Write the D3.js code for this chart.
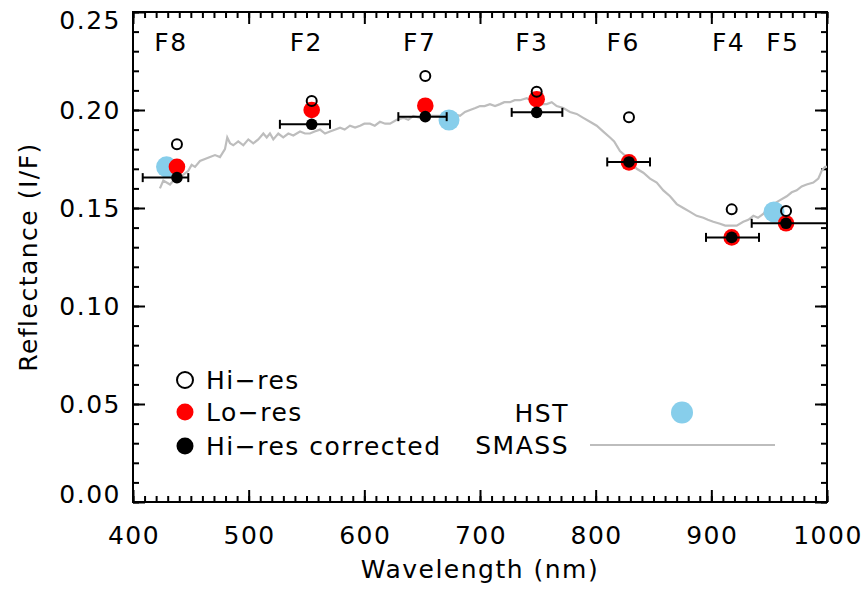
<!DOCTYPE html>
<html lang="en">
<head>
<meta charset="utf-8">
<title>Reflectance spectrum</title>
<script src="https://d3js.org/d3.v7.min.js"></script>
<style>
  body { margin: 0; background: #fff; }
  text { font-family: "DejaVu Sans", sans-serif; fill: #000; letter-spacing: 1.5px; }
</style>
</head>
<body>
<svg id="chart" width="865" height="590"></svg>
<script>
// filters
var filters   = ["F8", "F2", "F7", "F3", "F6", "F4", "F5"];
var filterWl  = [438, 554.5, 652.7, 749, 828.8, 917.6, 964.6];
var barLo     = [408.4, 527, 629.4, 727.4, 810, 895.4, 934.9];
var barHi     = [447.8, 570.3, 671.2, 771.2, 847, 941.2, 1010];
var hiRes     = [0.1825, 0.2046, 0.2173, 0.2093, 0.1963, 0.1493, 0.1485];
var loRes     = [0.171, 0.200, 0.2022, 0.2055, 0.1733, 0.135, 0.1422];
var hiResCorr = [0.1655, 0.1927, 0.1966, 0.1988, 0.1735, 0.135, 0.1422];
var labelWl   = [432, 549, 647, 744, 823, 914, 961];

// HST points
var hstWl = [429, 673.2, 954.2];
var hstR  = [0.171, 0.1949, 0.148];

// SMASS spectrum
var smassWl = [423.3, 426.2, 432, 438, 443.5, 447.8, 450.7, 453.6, 457.9, 462.2, 466.6, 470.9,
  475.2, 479.5, 481.5, 483.9, 486.7, 491.0, 495.4, 499.7, 504.0, 508.3, 512.7, 515.6, 518.4,
  521.3, 525.6, 529.9, 534.3, 538.6, 544.4, 548.7, 553.0, 557, 561.7, 566, 570.3, 575, 579.0,
  583, 587.6, 592, 596.3, 600, 604.9, 609, 613.5, 618, 622.2, 628.0, 633.7, 638, 642.3, 648,
  653.9, 660, 665, 672, 677, 682.7, 687, 691.4, 696, 700.0, 704, 708.6, 713, 717.3, 721, 725.9,
  730, 734.6, 740.4, 744, 748.4, 753, 757.7, 762, 766.3, 772.0, 777.8, 783.6, 789.3, 795.1,
  800.9, 806.6, 812.4, 816, 821.0, 828.8, 835.5, 841.2, 847.0, 852.8, 858.5, 864.3, 870.1,
  875.8, 881.6, 887.3, 893.1, 897, 901.7, 907.5, 912, 916.1, 921.9, 927.6, 932, 936.3, 940.3,
  944.9, 949.2, 953.6, 959.4, 965.2, 969.5, 973.8, 978.1, 982.4, 988.2, 992.5, 995.4, 998.3, 1000];
var smassR = [0.160, 0.164, 0.162, 0.166, 0.167, 0.169, 0.172, 0.171, 0.174, 0.175, 0.176, 0.177,
  0.176, 0.180, 0.186, 0.183, 0.182, 0.184, 0.182, 0.185, 0.183, 0.185, 0.188, 0.186, 0.188,
  0.185, 0.188, 0.186, 0.188, 0.187, 0.189, 0.188, 0.188, 0.189, 0.190, 0.188, 0.189, 0.190, 0.191,
  0.190, 0.192, 0.191, 0.192, 0.193, 0.193, 0.192, 0.194, 0.193, 0.193, 0.195, 0.196, 0.195, 0.197, 0.196,
  0.197, 0.197, 0.197, 0.197, 0.198, 0.197, 0.199, 0.200, 0.201, 0.202, 0.202, 0.203, 0.202, 0.203, 0.204, 0.204,
  0.205, 0.205, 0.206, 0.205, 0.205, 0.203, 0.203, 0.204, 0.202, 0.201, 0.199, 0.198, 0.196, 0.194,
  0.192, 0.189, 0.186, 0.184, 0.179, 0.175, 0.170, 0.168, 0.165, 0.163, 0.159, 0.156, 0.152,
  0.150, 0.148, 0.146, 0.145, 0.144, 0.143, 0.142, 0.141, 0.141, 0.141, 0.143, 0.144, 0.146, 0.145,
  0.147, 0.150, 0.152, 0.154, 0.156, 0.158, 0.159, 0.161, 0.162, 0.163, 0.165, 0.169, 0.171, 0.171];

// axis ticks
var xTicks = [400, 500, 600, 700, 800, 900, 1000];
var yTicks = [0.00, 0.05, 0.10, 0.15, 0.20, 0.25];

var svg = d3.select("#chart");
var pLeft = 133, pRight = 827, pTop = 12, pBottom = 502;

var x = d3.scaleLinear().domain([400, 1000]).range([pLeft, pRight]);
var y = d3.scaleLinear().domain([0, 0.25]).range([pBottom, pTop]);

var fs = 25;

// axes, ticks inward on all four sides
function tickAxis(axisFn, scale, values, size, transform) {
  var g = svg.append("g").attr("transform", transform)
    .call(axisFn(scale).tickValues(values).tickSize(size).tickFormat(""));
  g.select(".domain").remove();
  g.selectAll("line").attr("stroke", "#000").attr("stroke-width", 2);
  return g;
}
var xMinor = d3.range(400, 1001, 10);
var yMinor = d3.range(0, 0.2501, 0.01);
tickAxis(d3.axisTop, x, xMinor, 6, "translate(0," + pBottom + ")");
tickAxis(d3.axisTop, x, xTicks, 12, "translate(0," + pBottom + ")");
tickAxis(d3.axisBottom, x, xMinor, 6, "translate(0," + pTop + ")");
tickAxis(d3.axisBottom, x, xTicks, 12, "translate(0," + pTop + ")");
tickAxis(d3.axisRight, y, yMinor, 6, "translate(" + pLeft + ",0)");
tickAxis(d3.axisRight, y, yTicks, 12, "translate(" + pLeft + ",0)");
tickAxis(d3.axisLeft, y, yMinor, 6, "translate(" + pRight + ",0)");
tickAxis(d3.axisLeft, y, yTicks, 12, "translate(" + pRight + ",0)");

svg.append("rect")
  .attr("x", pLeft).attr("y", pTop)
  .attr("width", pRight - pLeft).attr("height", pBottom - pTop)
  .attr("fill", "none").attr("stroke", "#000").attr("stroke-width", 2);

// tick labels
svg.append("g").selectAll("text").data(xTicks).enter().append("text")
  .attr("x", function(d) { return x(d) + 1; })
  .attr("y", 544)
  .attr("text-anchor", "middle")
  .attr("font-size", fs)
  .text(function(d) { return d; });

// end labels are nudged inside the axis span, as in the original
svg.append("g").selectAll("text").data(yTicks).enter().append("text")
  .attr("x", 121)
  .attr("y", function(d, i) {
    var shift = i === 0 ? -8 : (i === yTicks.length - 1 ? 8 : 0);
    return y(d) + 9 + shift;
  })
  .attr("text-anchor", "end")
  .attr("font-size", fs)
  .text(function(d) { return d.toFixed(2); });

svg.append("text")
  .attr("x", 480).attr("y", 578)
  .attr("text-anchor", "middle").attr("font-size", fs)
  .text("Wavelength (nm)");

svg.append("text")
  .attr("transform", "translate(37," + ((pTop + pBottom) / 2) + ") rotate(-90)")
  .attr("text-anchor", "middle").attr("font-size", fs)
  .text("Reflectance (I/F)");

// plot area
svg.append("clipPath").attr("id", "clip")
  .append("rect").attr("x", pLeft).attr("y", pTop)
  .attr("width", pRight - pLeft).attr("height", pBottom - pTop);
var plot = svg.append("g").attr("clip-path", "url(#clip)");

var smass = smassWl.map(function(w, i) { return [w, smassR[i]]; });
plot.append("path")
  .datum(smass)
  .attr("fill", "none")
  .attr("stroke", "#bdbdbd")
  .attr("stroke-width", 2.2)
  .attr("d", d3.line().x(function(d) { return x(d[0]); }).y(function(d) { return y(d[1]); }));

// HST
plot.selectAll(".hst").data(hstWl).enter().append("circle")
  .attr("cx", function(d) { return x(d); })
  .attr("cy", function(d, i) { return y(hstR[i]); })
  .attr("r", 10.5)
  .attr("fill", "#87ceeb");

// lo-res
plot.selectAll(".lo").data(filterWl).enter().append("circle")
  .attr("cx", function(d) { return x(d); })
  .attr("cy", function(d, i) { return y(loRes[i]); })
  .attr("r", 8.3)
  .attr("fill", "#ff0000");

// error bars on corrected points
var bars = plot.selectAll(".bar").data(filterWl).enter().append("g");
bars.append("line")
  .attr("x1", function(d, i) { return x(barLo[i]); })
  .attr("x2", function(d, i) { return x(barHi[i]); })
  .attr("y1", function(d, i) { return y(hiResCorr[i]); })
  .attr("y2", function(d, i) { return y(hiResCorr[i]); })
  .attr("stroke", "#000").attr("stroke-width", 2);
[barLo, barHi].forEach(function(arr) {
  bars.append("line")
    .attr("x1", function(d, i) { return x(arr[i]); })
    .attr("x2", function(d, i) { return x(arr[i]); })
    .attr("y1", function(d, i) { return y(hiResCorr[i]) - 4.5; })
    .attr("y2", function(d, i) { return y(hiResCorr[i]) + 4.5; })
    .attr("stroke", "#000").attr("stroke-width", 2);
});

plot.selectAll(".corr").data(filterWl).enter().append("circle")
  .attr("cx", function(d) { return x(d); })
  .attr("cy", function(d, i) { return y(hiResCorr[i]); })
  .attr("r", 5.8)
  .attr("fill", "#000");

plot.selectAll(".hi").data(filterWl).enter().append("circle")
  .attr("cx", function(d) { return x(d); })
  .attr("cy", function(d, i) { return y(hiRes[i]); })
  .attr("r", 5)
  .attr("fill", "none")
  .attr("stroke", "#000").attr("stroke-width", 2);

// filter names
svg.append("g").selectAll("text").data(filters).enter().append("text")
  .attr("x", function(d, i) { return x(labelWl[i]) + 1; })
  .attr("y", 51)
  .attr("text-anchor", "middle")
  .attr("font-size", fs)
  .text(function(d) { return d; });

// legend
var leg = svg.append("g");
leg.append("circle").attr("cx", 185).attr("cy", 380).attr("r", 8)
  .attr("fill", "none").attr("stroke", "#000").attr("stroke-width", 2);
leg.append("circle").attr("cx", 185).attr("cy", 412).attr("r", 8.5).attr("fill", "#ff0000");
leg.append("circle").attr("cx", 185).attr("cy", 446).attr("r", 8.5).attr("fill", "#000");
var legText = ["Hi-res", "Lo-res", "Hi-res corrected"];
var legY = [380, 412, 446];
legText.forEach(function(t, i) {
  leg.append("text").attr("x", 206).attr("y", legY[i] + 9)
    .attr("font-size", fs).text(t.replace("-", "\u2212"));
});
leg.append("text").attr("x", 569).attr("y", 422).attr("text-anchor", "end")
  .attr("font-size", fs).text("HST");
leg.append("circle").attr("cx", 682).attr("cy", 412.5).attr("r", 11).attr("fill", "#87ceeb");
leg.append("text").attr("x", 569).attr("y", 454).attr("text-anchor", "end")
  .attr("font-size", fs).text("SMASS");
leg.append("line").attr("x1", 590).attr("x2", 775).attr("y1", 445).attr("y2", 445)
  .attr("stroke", "#bdbdbd").attr("stroke-width", 2);
</script>
</body>
</html>
